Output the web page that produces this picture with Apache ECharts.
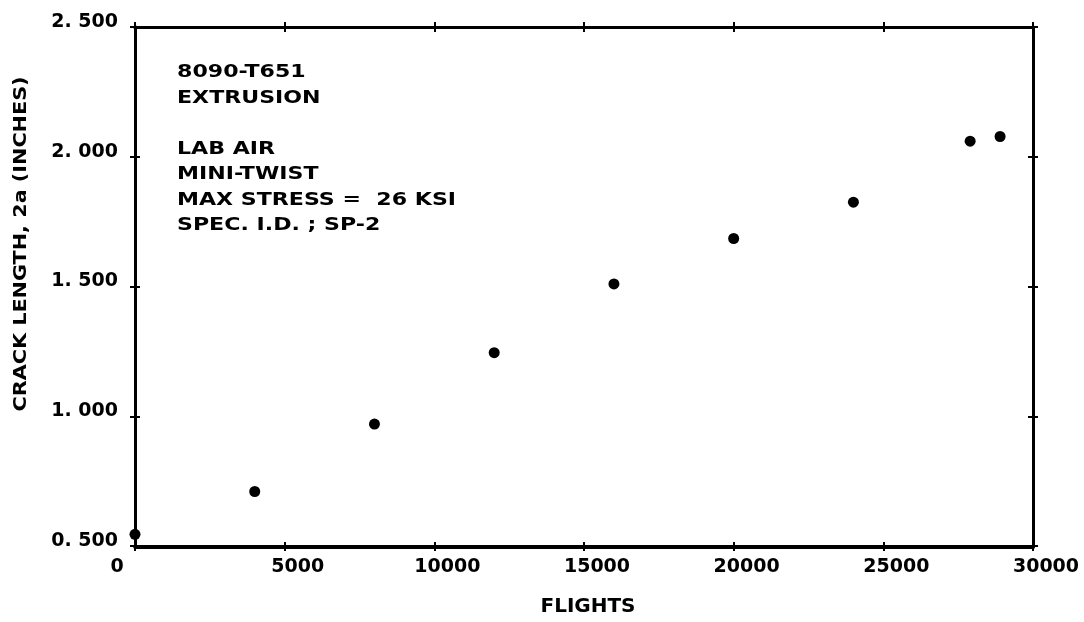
<!DOCTYPE html>
<html>
<head>
<meta charset="utf-8">
<title>8090-T651 crack growth</title>
<script src="https://cdn.jsdelivr.net/npm/echarts@6/dist/echarts.min.js"></script>
<style>
  html, body { margin: 0; padding: 0; background: #fff; }
  #chart { width: 1084px; height: 622px; }
</style>
</head>
<body>
<div id="chart"></div>
<script>
// Measured crack length vs. flights, specimen SP-2
const flights = [0, 4000, 8000, 12000, 16000, 20000, 24000, 27900, 28900];
const crackLength = [0.545, 0.710, 0.970, 1.245, 1.510, 1.685, 1.825, 2.060, 2.078];

// Axis ranges and tick steps
const xRange = [0, 30000];
const xStep = 5000;
const yRange = [0.5, 2.5];
const yStep = 0.5;

// Specimen notes printed inside the plot
const notes = [
  '8090-T651',
  'EXTRUSION',
  '',
  'LAB AIR',
  'MINI-TWIST',
  'MAX STRESS =  26 KSI',
  'SPEC. I.D. ; SP-2'
];

const xTitle = 'FLIGHTS';
const yTitle = 'CRACK LENGTH, 2a (INCHES)';

const FONT = '"DejaVu Sans", sans-serif';
const INK = '#000';

const chart = echarts.init(document.getElementById('chart'), null, { renderer: 'canvas' });

// Two identical grids: one carries the outward ticks, the other the inward
// ticks, so every tick reads as a small cross on all four sides.
const gridBox = { left: 135, right: 51, top: 27, bottom: 75, containLabel: false };

function xAxisDef(gridIndex, position, inside, withLabels) {
  return {
    type: 'value', gridIndex: gridIndex, position: position,
    min: xRange[0], max: xRange[1], interval: xStep,
    axisLine: { show: true, onZero: false, lineStyle: { color: INK, width: 3 } },
    axisTick: { show: true, inside: inside, length: 5, lineStyle: { color: INK, width: 2 } },
    splitLine: { show: false },
    axisLabel: withLabels ? {
      show: true, margin: 12,
      formatter: v => v === 0 ? '{z|0}' : '{n|' + v + '}',
      rich: {
        z: { fontFamily: FONT, fontWeight: 'bold', fontSize: 19, color: INK, padding: [0, 36, 0, 0] },
        n: { fontFamily: FONT, fontWeight: 'bold', fontSize: 19, color: INK, padding: [0, 0, 0, 26] }
      }
    } : { show: false },
    name: withLabels ? xTitle : '',
    nameLocation: 'middle', nameGap: 51,
    nameTextStyle: { fontFamily: FONT, fontWeight: 'bold', fontSize: 20, color: INK, padding: [0, 0, 0, 8] }
  };
}

function yAxisDef(gridIndex, position, inside, withLabels) {
  return {
    type: 'value', gridIndex: gridIndex, position: position,
    min: yRange[0], max: yRange[1], interval: yStep,
    axisLine: { show: true, onZero: false, lineStyle: { color: INK, width: 3 } },
    axisTick: { show: true, inside: inside, length: 5, lineStyle: { color: INK, width: 2 } },
    splitLine: { show: false },
    axisLabel: withLabels ? {
      show: true, margin: 17,
      formatter: v => '{v|' + v.toFixed(3).replace('.', '. ') + '}',
      rich: {
        v: { fontFamily: FONT, fontWeight: 'bold', fontSize: 19, color: INK, padding: [0, 0, 10, 0] }
      }
    } : { show: false }
  };
}

chart.setOption({
  animation: false,
  backgroundColor: '#fff',
  grid: [Object.assign({}, gridBox), Object.assign({}, gridBox)],
  xAxis: [
    xAxisDef(0, 'bottom', false, true),
    xAxisDef(0, 'top', false, false),
    xAxisDef(1, 'bottom', true, false),
    xAxisDef(1, 'top', true, false)
  ],
  yAxis: [
    yAxisDef(0, 'left', false, true),
    yAxisDef(0, 'right', false, false),
    yAxisDef(1, 'left', true, false),
    yAxisDef(1, 'right', true, false)
  ],
  graphic: [{
    // vertical axis title, stretched a little to the plotter lettering width
    type: 'text',
    x: 22, y: 244, rotation: Math.PI / 2, scaleX: 1.22,
    style: {
      text: yTitle,
      fontFamily: FONT, fontWeight: 'bold', fontSize: 17, fill: INK,
      textAlign: 'center', textVerticalAlign: 'middle'
    },
    z: 10
  }, {
    type: 'text',
    x: 177, y: 60, scaleX: 1.3,
    style: {
      text: notes.join('\n'),
      fontFamily: FONT, fontWeight: 'bold', fontSize: 17,
      lineHeight: 25.5, fill: INK,
      textAlign: 'left', textVerticalAlign: 'top'
    },
    z: 10
  }],
  series: [{
    type: 'scatter',
    xAxisIndex: 0, yAxisIndex: 0,
    symbol: 'circle', symbolSize: 11,
    clip: false,
    itemStyle: { color: INK, opacity: 1 },
    data: flights.map((f, i) => [f, crackLength[i]]),
    z: 5
  }]
});
</script>
</body>
</html>
